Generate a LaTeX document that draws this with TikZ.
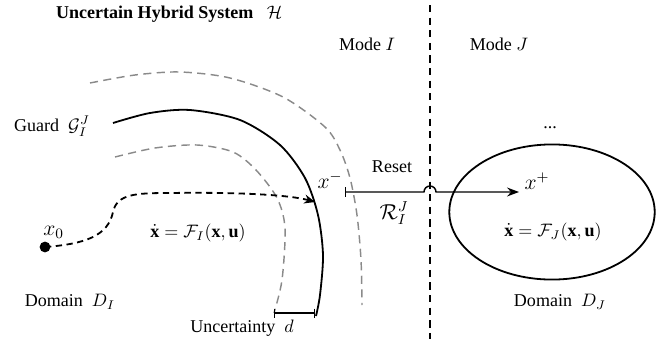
\documentclass[tikz,border=0pt]{standalone}
\usepackage{amsmath,amssymb}
\usepackage{fontspec}
\setmainfont{Liberation Serif}
\usetikzlibrary{arrows.meta, positioning, calc, shapes.geometric}
\definecolor{uncgray}{HTML}{8A8A8A}

\begin{document}
\begin{tikzpicture}[
    x=0.555pt, y=-0.555pt,
    node distance=4pt,
    lbl/.style={inner sep=1pt, font=\normalsize},
    guardline/.style={line width=1pt},
    uncline/.style={uncgray, line width=0.8pt, dash pattern=on 4.5pt off 3pt},
    traj/.style={line width=1pt, dash pattern=on 3.5pt off 2.5pt},
    modeline/.style={line width=1pt, dash pattern=on 4pt off 3pt},
    >=Stealth
]
\useasboundingbox (0,0) rectangle (665,339);

% labels
\node[lbl, anchor=west] (title) at (54,14) {\textbf{Uncertain Hybrid System}~~~$\mathcal{H}$};
\node[lbl] (modeI) at (367,44) {Mode $I$};
\node[lbl] (modeJ) at (499,44) {Mode $J$};
\node[lbl] (guard) at (52,126) {Guard~~$\mathcal{G}_I^J$};
\node[lbl] (dynI) at (198,233) {$\dot{\mathbf{x}} = \mathcal{F}_I(\mathbf{x},\mathbf{u})$};
\node[lbl] (domI) at (70,302) {Domain~~$D_I$};
\node[lbl] (unc) at (242,328) {Uncertainty~~$d$};

% mode separation
\coordinate (septop) at (430,5);
\coordinate (sepbot) at (430,339);
\draw[modeline] (septop) -- (sepbot);

% guard and its uncertainty band
\draw[guardline] plot[smooth] coordinates {(113,123) (150,113) (190,110) (240,120) (280,145) (305,178) (318,215) (323,255) (320,295) (316,316)};
\draw[uncline] plot[smooth] coordinates {(90,83) (135,75) (180,72) (230,78) (283,97) (325,127) (340,150) (350,178) (357,215) (361,260) (362,305)};
\draw[uncline] plot[smooth] coordinates {(115,157) (155,148) (197,145) (233,152) (256,170) (277,198) (285,228) (282,280) (274,313)};
\coordinate (dL) at (274,313);
\coordinate (dR) at (315,313);
\draw[{Bar[width=5pt]}-{Bar[width=5pt]}, thick] (dL) -- (dR);

% trajectory in mode I
\node[circle, fill, inner sep=0pt, minimum size=6pt] (x0) at (45,247) {};
\node[lbl, font=\large, above left=1pt and -14pt of x0] (x0lbl) {$x_0$};
\coordinate (xhit) at (315,202);
\draw[traj, -{Stealth[length=6pt, width=5pt]}] (x0.center) .. controls (85,244) and (108,236) .. (113,212)
    .. controls (117,194) and (135,193) .. (170,193)
    .. controls (240,192) and (290,195) .. (xhit);
\node[lbl, font=\large] (xminus) at (330,180) {$x^-$};

% mode J domain
\node[draw, ellipse, line width=1pt, minimum width=114pt, minimum height=75pt, inner sep=0pt] (domJell) at (552,212) {};
\node[lbl] (dots) at (550,128) {...};
\node[lbl] (dynJ) at (553,232) {$\dot{\mathbf{x}} = \mathcal{F}_J(\mathbf{x},\mathbf{u})$};
\node[lbl] (domJ) at (560,302) {Domain~~$D_J$};
\node[lbl, font=\large] (xplus) at (537,181) {$x^+$};

% reset map
\coordinate (rstart) at (345,192);
\coordinate (jumpL) at (424,192);
\coordinate (rend) at (519,192);
\draw[thick, {Bar[width=5pt]}->] (rstart) -- (jumpL) arc[start angle=180, end angle=360, radius=6] -- (rend);
\node[lbl] (reset) at (392,167) {Reset};
\node[lbl, font=\large] (rmap) at (394,213) {$\mathcal{R}_I^J$};
\end{tikzpicture}
\end{document}
